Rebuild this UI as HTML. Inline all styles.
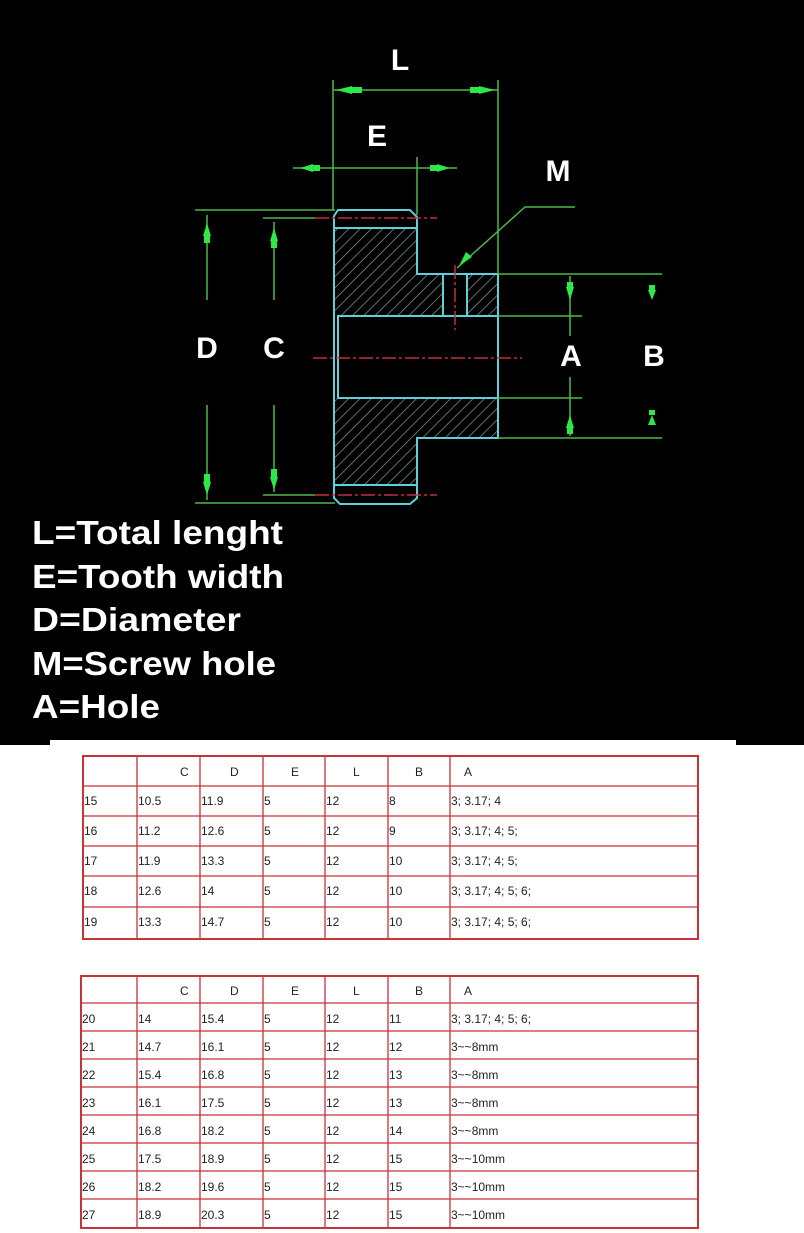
<!DOCTYPE html>
<html><head><meta charset="utf-8"><style>
html,body{margin:0;padding:0;background:#fff;}
svg{display:block}
</style></head><body>
<svg width="804" height="1233" viewBox="0 0 804 1233" xmlns="http://www.w3.org/2000/svg" font-family="Liberation Sans, sans-serif">
<defs>
<pattern id="h" width="8" height="8" patternUnits="userSpaceOnUse" patternTransform="rotate(45)">
<rect width="8" height="8" fill="#000"/>
<line x1="0" y1="0" x2="0" y2="8" stroke="#8a9a9a" stroke-width="1.4"/>
</pattern>
</defs>
<rect x="0" y="0" width="804" height="745" fill="#000"/>
<rect x="50" y="740" width="686" height="6" fill="#fff"/>

<rect x="334" y="228" width="83" height="88" fill="url(#h)"/>
<rect x="417" y="274" width="26" height="42" fill="url(#h)"/>
<rect x="467" y="274" width="31" height="42" fill="url(#h)"/>
<rect x="334" y="398" width="83" height="87" fill="url(#h)"/>
<rect x="417" y="398" width="81" height="40" fill="url(#h)"/>

<g fill="none" stroke="#5fd0d8" stroke-width="2">
<path d="M338 210 H410 L417 217 V274 H498 V438 H417 V498 L410 504 H340 L334 498 V216 Z"/>
<rect x="338" y="316" width="160" height="82"/>
<line x1="334" y1="228" x2="417" y2="228"/>
<line x1="334" y1="485" x2="417" y2="485"/>
<line x1="443" y1="274" x2="443" y2="316"/>
<line x1="467" y1="274" x2="467" y2="316"/>
</g>

<g stroke="#c0303a" stroke-width="1.5" stroke-dasharray="14 3 3 3">
<line x1="313" y1="358" x2="522" y2="358"/>
<line x1="315" y1="218" x2="437" y2="218"/>
<line x1="315" y1="495" x2="437" y2="495"/>
<line x1="455" y1="265" x2="455" y2="330"/>
</g>

<g stroke="#4cb84c" stroke-width="1.5" fill="none">
<line x1="333" y1="80" x2="333" y2="210"/>
<line x1="498" y1="80" x2="498" y2="274"/>
<line x1="333" y1="90" x2="498" y2="90"/>
<line x1="293" y1="168" x2="457" y2="168"/>
<line x1="417" y1="157" x2="417" y2="215"/>
<line x1="195" y1="210" x2="335" y2="210"/>
<line x1="263" y1="218" x2="315" y2="218"/>
<line x1="195" y1="503" x2="335" y2="503"/>
<line x1="263" y1="495" x2="315" y2="495"/>
<line x1="207" y1="215" x2="207" y2="300"/>
<line x1="207" y1="405" x2="207" y2="500"/>
<line x1="274" y1="222" x2="274" y2="300"/>
<line x1="274" y1="405" x2="274" y2="492"/>
<line x1="498" y1="274" x2="662" y2="274"/>
<line x1="498" y1="438" x2="662" y2="438"/>
<line x1="498" y1="316" x2="582" y2="316"/>
<line x1="498" y1="398" x2="582" y2="398"/>
<line x1="570" y1="276" x2="570" y2="336"/>
<line x1="570" y1="377" x2="570" y2="436"/>
<polyline points="457,268 525,207 575,207"/>
</g>
<g fill="#2ee84a">
<polygon points="336,90 352,86 352,94"/><polygon points="352,87 362,87 362,93 352,93"/>
<polygon points="495,90 479,86 479,94"/><polygon points="470,87 479,87 479,93 470,93"/>
<polygon points="300,168 313,164 313,172"/><polygon points="313,165 320,165 320,171 313,171"/>
<polygon points="450,168 437,164 437,172"/><polygon points="430,165 437,165 437,171 430,171"/>
<polygon points="207,223 203,236 211,236"/><polygon points="204,236 210,236 210,243 204,243"/>
<polygon points="207,495 203,482 211,482"/><polygon points="204,474 210,474 210,482 204,482"/>
<polygon points="274,228 270,241 278,241"/><polygon points="271,241 277,241 277,248 271,248"/>
<polygon points="274,490 270,477 278,477"/><polygon points="271,469 277,469 277,477 271,477"/>
<polygon points="570,300 566,287 574,287"/><polygon points="567,282 573,282 573,287 567,287"/>
<polygon points="570,415 566,428 574,428"/><polygon points="567,428 573,428 573,434 567,434"/>
<polygon points="652,300 648,290 656,290"/><polygon points="649,285 655,285 655,290 649,290"/>
<polygon points="652,415 648,425 656,425"/><polygon points="649,410 655,410 655,415 649,415"/>
<polygon points="459,266 466,252 472,257"/>
</g>

<g fill="#fff" font-weight="bold" font-size="30" text-anchor="middle">
<text x="400" y="70">L</text>
<text x="377" y="146">E</text>
<text x="558" y="181">M</text>
<text x="207" y="358">D</text>
<text x="274" y="358">C</text>
<text x="571" y="366">A</text>
<text x="654" y="366">B</text>
</g>
<g fill="#fff" font-weight="bold" font-size="33">
<text x="32" y="544" textLength="251" lengthAdjust="spacingAndGlyphs">L=Total lenght</text>
<text x="32" y="588" textLength="252" lengthAdjust="spacingAndGlyphs">E=Tooth width</text>
<text x="32" y="631" textLength="209" lengthAdjust="spacingAndGlyphs">D=Diameter</text>
<text x="32" y="675" textLength="244" lengthAdjust="spacingAndGlyphs">M=Screw hole</text>
<text x="32" y="718" textLength="128" lengthAdjust="spacingAndGlyphs">A=Hole</text>
</g>

<g stroke="#c8323a" stroke-width="1.3" fill="none">
<rect x="83" y="756" width="615" height="183" stroke-width="2"/>
<line x1="137" y1="756" x2="137" y2="939"/><line x1="200" y1="756" x2="200" y2="939"/>
<line x1="263" y1="756" x2="263" y2="939"/><line x1="325" y1="756" x2="325" y2="939"/>
<line x1="388" y1="756" x2="388" y2="939"/><line x1="450" y1="756" x2="450" y2="939"/>
<line x1="83" y1="786" x2="698" y2="786"/><line x1="83" y1="816" x2="698" y2="816"/>
<line x1="83" y1="846" x2="698" y2="846"/><line x1="83" y1="876" x2="698" y2="876"/>
<line x1="83" y1="907" x2="698" y2="907"/>
</g>
<g font-size="12" fill="#222">
<text x="180" y="776">C</text><text x="230" y="776">D</text><text x="291" y="776">E</text><text x="353" y="776">L</text><text x="415" y="776">B</text><text x="464" y="776">A</text>
<text x="84" y="805">15</text><text x="138" y="805">10.5</text><text x="201" y="805">11.9</text><text x="264" y="805">5</text><text x="326" y="805">12</text><text x="389" y="805">8</text><text x="451" y="805">3; 3.17; 4</text>
<text x="84" y="835">16</text><text x="138" y="835">11.2</text><text x="201" y="835">12.6</text><text x="264" y="835">5</text><text x="326" y="835">12</text><text x="389" y="835">9</text><text x="451" y="835">3; 3.17; 4; 5;</text>
<text x="84" y="865">17</text><text x="138" y="865">11.9</text><text x="201" y="865">13.3</text><text x="264" y="865">5</text><text x="326" y="865">12</text><text x="389" y="865">10</text><text x="451" y="865">3; 3.17; 4; 5;</text>
<text x="84" y="895">18</text><text x="138" y="895">12.6</text><text x="201" y="895">14</text><text x="264" y="895">5</text><text x="326" y="895">12</text><text x="389" y="895">10</text><text x="451" y="895">3; 3.17; 4; 5; 6;</text>
<text x="84" y="926">19</text><text x="138" y="926">13.3</text><text x="201" y="926">14.7</text><text x="264" y="926">5</text><text x="326" y="926">12</text><text x="389" y="926">10</text><text x="451" y="926">3; 3.17; 4; 5; 6;</text>
</g>

<g stroke="#c8323a" stroke-width="1.3" fill="none">
<rect x="81" y="976" width="617" height="252" stroke-width="2"/>
<line x1="137" y1="976" x2="137" y2="1228"/><line x1="200" y1="976" x2="200" y2="1228"/>
<line x1="263" y1="976" x2="263" y2="1228"/><line x1="325" y1="976" x2="325" y2="1228"/>
<line x1="388" y1="976" x2="388" y2="1228"/><line x1="450" y1="976" x2="450" y2="1228"/>
<line x1="81" y1="1003" x2="698" y2="1003"/><line x1="81" y1="1031" x2="698" y2="1031"/>
<line x1="81" y1="1059" x2="698" y2="1059"/><line x1="81" y1="1087" x2="698" y2="1087"/>
<line x1="81" y1="1115" x2="698" y2="1115"/><line x1="81" y1="1143" x2="698" y2="1143"/>
<line x1="81" y1="1171" x2="698" y2="1171"/><line x1="81" y1="1199" x2="698" y2="1199"/>
</g>
<g font-size="12" fill="#222">
<text x="180" y="995">C</text><text x="230" y="995">D</text><text x="291" y="995">E</text><text x="353" y="995">L</text><text x="415" y="995">B</text><text x="464" y="995">A</text>
<text x="82" y="1023">20</text><text x="138" y="1023">14</text><text x="201" y="1023">15.4</text><text x="264" y="1023">5</text><text x="326" y="1023">12</text><text x="389" y="1023">11</text><text x="451" y="1023">3; 3.17; 4; 5; 6;</text>
<text x="82" y="1051">21</text><text x="138" y="1051">14.7</text><text x="201" y="1051">16.1</text><text x="264" y="1051">5</text><text x="326" y="1051">12</text><text x="389" y="1051">12</text><text x="451" y="1051">3~~8mm</text>
<text x="82" y="1079">22</text><text x="138" y="1079">15.4</text><text x="201" y="1079">16.8</text><text x="264" y="1079">5</text><text x="326" y="1079">12</text><text x="389" y="1079">13</text><text x="451" y="1079">3~~8mm</text>
<text x="82" y="1107">23</text><text x="138" y="1107">16.1</text><text x="201" y="1107">17.5</text><text x="264" y="1107">5</text><text x="326" y="1107">12</text><text x="389" y="1107">13</text><text x="451" y="1107">3~~8mm</text>
<text x="82" y="1135">24</text><text x="138" y="1135">16.8</text><text x="201" y="1135">18.2</text><text x="264" y="1135">5</text><text x="326" y="1135">12</text><text x="389" y="1135">14</text><text x="451" y="1135">3~~8mm</text>
<text x="82" y="1163">25</text><text x="138" y="1163">17.5</text><text x="201" y="1163">18.9</text><text x="264" y="1163">5</text><text x="326" y="1163">12</text><text x="389" y="1163">15</text><text x="451" y="1163">3~~10mm</text>
<text x="82" y="1191">26</text><text x="138" y="1191">18.2</text><text x="201" y="1191">19.6</text><text x="264" y="1191">5</text><text x="326" y="1191">12</text><text x="389" y="1191">15</text><text x="451" y="1191">3~~10mm</text>
<text x="82" y="1219">27</text><text x="138" y="1219">18.9</text><text x="201" y="1219">20.3</text><text x="264" y="1219">5</text><text x="326" y="1219">12</text><text x="389" y="1219">15</text><text x="451" y="1219">3~~10mm</text>
</g>
</svg>
</body></html>
